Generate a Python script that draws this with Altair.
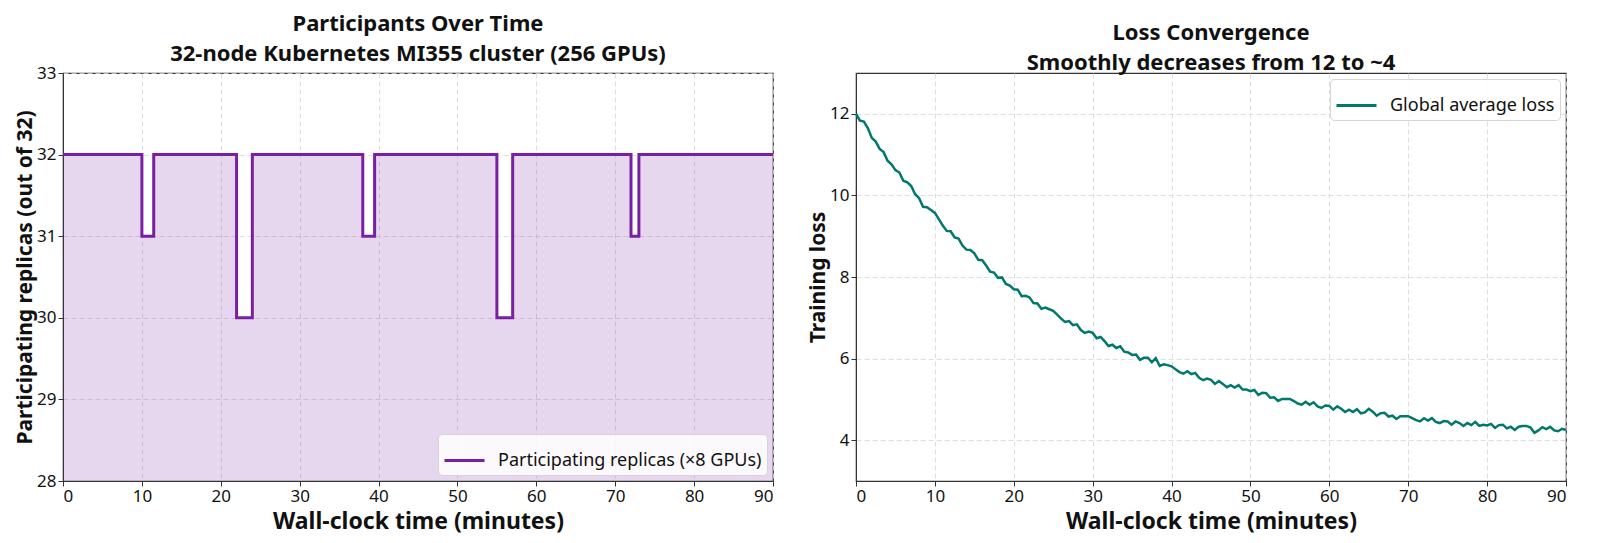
import numpy as np
import pandas as pd
import altair as alt

# participating replicas (step function, value holds until next change)
step_minutes = [0, 10, 11.5, 22, 24, 38, 39.5, 55, 57, 72, 73, 90]
replicas = [32, 31, 32, 30, 32, 31, 32, 30, 32, 31, 32, 32]

loss_minutes = np.arange(0, 90.5, 0.5)
loss = [
    12.00, 11.83, 11.81, 11.65, 11.41, 11.32, 11.14, 11.06, 10.85, 10.76,
    10.62, 10.56, 10.36, 10.32, 10.23, 10.03, 9.93, 9.72, 9.71, 9.64,
    9.57, 9.42, 9.26, 9.13, 9.12, 8.97, 8.94, 8.77, 8.67, 8.66,
    8.58, 8.42, 8.41, 8.28, 8.13, 8.11, 7.98, 7.99, 7.83, 7.79,
    7.70, 7.69, 7.53, 7.54, 7.50, 7.36, 7.35, 7.22, 7.25, 7.21,
    7.17, 7.08, 6.98, 6.90, 6.92, 6.82, 6.84, 6.70, 6.63, 6.66,
    6.63, 6.50, 6.53, 6.43, 6.31, 6.34, 6.26, 6.30, 6.17, 6.15,
    6.09, 6.10, 5.97, 6.02, 6.02, 5.91, 6.01, 5.82, 5.86, 5.84,
    5.81, 5.74, 5.67, 5.63, 5.69, 5.62, 5.65, 5.53, 5.47, 5.51,
    5.48, 5.38, 5.45, 5.38, 5.30, 5.35, 5.29, 5.35, 5.24, 5.24,
    5.20, 5.23, 5.11, 5.16, 5.15, 5.04, 5.05, 4.96, 5.01, 5.01,
    5.01, 4.96, 4.90, 4.87, 4.94, 4.87, 4.93, 4.83, 4.79, 4.85,
    4.84, 4.75, 4.83, 4.77, 4.69, 4.75, 4.69, 4.76, 4.66, 4.68,
    4.77, 4.70, 4.60, 4.66, 4.67, 4.58, 4.60, 4.52, 4.59, 4.59,
    4.59, 4.54, 4.49, 4.46, 4.54, 4.48, 4.54, 4.45, 4.42, 4.47,
    4.46, 4.38, 4.46, 4.42, 4.35, 4.42, 4.37, 4.45, 4.35, 4.38,
    4.36, 4.40, 4.30, 4.37, 4.38, 4.29, 4.33, 4.25, 4.33, 4.35,
    4.35, 4.31, 4.18, 4.24, 4.32, 4.27, 4.33, 4.24, 4.22, 4.28,
    4.25,
]

PURPLE = "#7B1FA2"
TEAL = "#00796B"
FONT = "Noto Sans"
replica_label = "Participating replicas (\u00d78 GPUs)"
loss_label = "Global average loss"

steps = pd.DataFrame({"t": step_minutes, "n": replicas, "series": replica_label})
curve = pd.DataFrame({"t": loss_minutes, "loss": loss, "series": loss_label})

W, H = 710, 408

x_axis = alt.Axis(values=list(range(0, 91, 10)), format="d",
                  title="Wall-clock time (minutes)", titleFontSize=23, titlePadding=6)

def legend(orient):
    return alt.Legend(
        title=None, orient=orient, offset=6, symbolType="stroke",
        symbolStrokeWidth=3, symbolSize=1600, labelFontSize=18, labelFont=FONT,
        labelColor="#111", labelLimit=400, fillColor="rgba(255,255,255,0.85)",
        strokeColor="#d5d5d5", cornerRadius=4, padding=5, labelOffset=12,
    )

# participants chart
base = alt.Chart(steps).encode(
    x=alt.X("t:Q", scale=alt.Scale(domain=[0, 90], nice=False), axis=x_axis),
)
area = base.mark_area(interpolate="step-after", color=PURPLE, opacity=0.18).encode(
    y=alt.Y("n:Q", scale=alt.Scale(domain=[28, 33], nice=False, zero=False),
            axis=alt.Axis(values=[28, 29, 30, 31, 32, 33], format="d", titlePadding=1,
                          title="Participating replicas (out of 32)")),
    y2=alt.datum(28),
)
line = base.mark_line(interpolate="step-after", strokeWidth=3).encode(
    y="n:Q",
    color=alt.Color("series:N", scale=alt.Scale(domain=[replica_label], range=[PURPLE]),
                    legend=legend("bottom-right")),
)
left = (area + line).properties(
    width=W, height=H,
    title=alt.TitleParams(["Participants Over Time",
                           "32-node Kubernetes MI355 cluster (256 GPUs)"]),
)

# loss chart
right = alt.Chart(curve).mark_line(strokeWidth=2.5).encode(
    x=alt.X("t:Q", scale=alt.Scale(domain=[0, 90], nice=False), axis=x_axis),
    y=alt.Y("loss:Q", scale=alt.Scale(domain=[3, 13], nice=False, zero=False),
            axis=alt.Axis(values=[4, 6, 8, 10, 12], format="d", titlePadding=1,
                          title="Training loss")),
    color=alt.Color("series:N", scale=alt.Scale(domain=[loss_label], range=[TEAL]),
                    legend=legend("top-right")),
).properties(
    width=W, height=H,
    title=alt.TitleParams(["Loss Convergence", "Smoothly decreases from 12 to ~4"]),
)

chart = alt.hconcat(left, right, spacing=26).resolve_scale(color="independent").properties(
    padding={"left": 5, "top": 4, "right": 0, "bottom": 0}
).configure_view(
    stroke="#333", strokeWidth=1.2
).configure_axis(
    labelFont=FONT, labelFontSize=17, labelColor="#111",
    titleFont=FONT, titleFontSize=21, titleFontWeight="bold", titleColor="#111",
    grid=True, gridColor="#d6d6d6", gridDash=[5, 3], gridWidth=0.8,
    domainColor="#333", tickColor="#333", tickSize=5, labelPadding=2,
).configure_title(
    font=FONT, fontSize=22, fontWeight="bold", color="#111",
    anchor="middle", lineHeight=30, offset=-2,
)

chart.save("out.html", embed_options={"renderer": "svg", "actions": False})
